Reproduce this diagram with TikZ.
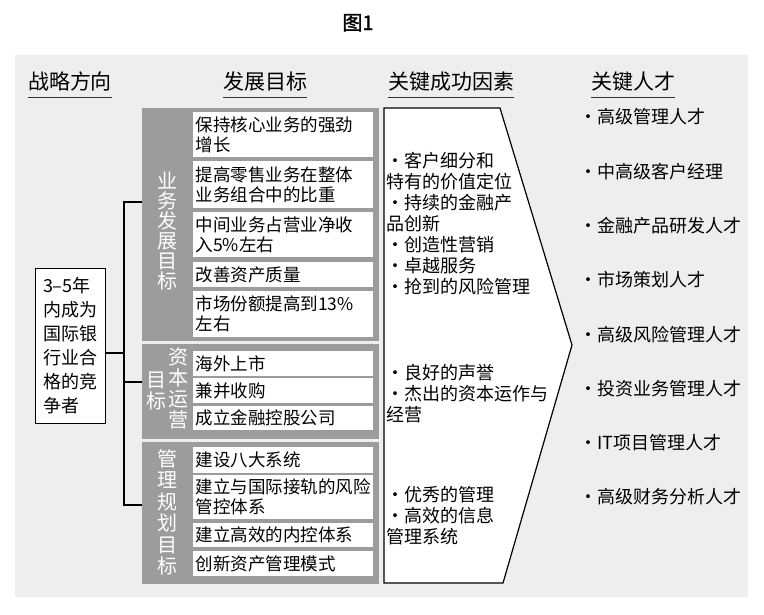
\documentclass[tikz,border=0pt]{standalone}
\usepackage{fontspec}
\setmainfont{Noto Sans CJK SC}
\newfontfamily\titlefont[FakeBold=1.5]{Noto Sans CJK SC}
\usetikzlibrary{positioning}
\definecolor{panelgray}{HTML}{EEEEEE}
\definecolor{boxgray}{HTML}{9C9C9C}
\newcommand{\dotmark}{\makebox[1em]{·}}
\begin{document}
\begin{tikzpicture}[x=1pt,y=-1pt,
  head/.style={font=\fontsize{21}{24}\selectfont, inner sep=0pt, anchor=base},
  uline/.style={draw=black!80, line width=1pt},
  group/.style={fill=boxgray, minimum width=237pt, anchor=north west, inner sep=0pt},
  item/.style={fill=white, anchor=west, text width=175pt, inner xsep=2.5pt, inner ysep=0pt, align=left, font=\fontsize{17.5}{20}\selectfont},
  vlabel/.style={text=white, align=center, inner sep=0pt},
  ksf/.style={anchor=west, align=left, inner sep=0pt, font=\fontsize{18}{21}\selectfont},
  talent/.style={anchor=west, inner sep=0pt, font=\fontsize{18}{21}\selectfont},
  link/.style={line width=1.2pt}]
\useasboundingbox (0,0) rectangle (764,614);
\fill[panelgray] (15,55) rectangle (748,597);
\node[anchor=base, font=\titlefont\fontsize{20}{24}\selectfont] (title) at (358,30) {图1};
% column heads
\node[head] (h1) at (70,89) {战略方向};
\node[head] (h2) at (265,89) {发展目标};
\node[head] (h3) at (451,89) {关键成功因素};
\node[head] (h4) at (633,89) {关键人才};
\foreach \h in {h1,h2,h3,h4}
  \draw[uline] ([yshift=-8pt]\h.base west) -- ([yshift=-8pt]\h.base east);
% goal groups
\node[group, minimum height=233pt] (grpA) at (142,108) {};
\node[group, minimum height=95pt] (grpB) at (142,344) {};
\node[group, minimum height=142pt] (grpC) at (142,442) {};
\node[vlabel, font=\fontsize{20}{20}\selectfont] (labA) at (167,231) {业\\务\\发\\展\\目\\标};
\node[vlabel, font=\fontsize{20}{21}\selectfont] (labB) at (178,388) {资\\本\\运\\营};
\node[vlabel, font=\fontsize{20}{21}\selectfont] (labB2) at (156,391) {目\\标};
\node[vlabel, font=\fontsize{20}{21.5}\selectfont] (labC) at (167,512.5) {管\\理\\规\\划\\目\\标};
\node[item, minimum height=45pt] (a1) at (193,134.5) {保持核心业务的强劲\\增长};
\node[item, minimum height=47pt] (a2) at (193,184.5) {提高零售业务在整体\\业务组合中的比重};
\node[item, minimum height=45pt] (a3) at (193,234.5) {中间业务占营业净收\\入5\%左右};
\node[item, minimum height=25pt] (a4) at (193,274.5) {改善资产质量};
\node[item, minimum height=46pt] (a5) at (193,314) {市场份额提高到13\%\\左右};
\node[item, minimum height=25pt] (b1) at (193,363.5) {海外上市};
\node[item, minimum height=25pt] (b2) at (193,390.5) {兼并收购};
\node[item, minimum height=24pt] (b3) at (193,418) {成立金融控股公司};
\node[item, minimum height=26pt] (c1) at (193,460) {建设八大系统};
\node[item, minimum height=44pt] (c2) at (193,497) {建立与国际接轨的风险\\管控体系};
\node[item, minimum height=24pt] (c3) at (193,535) {建立高效的内控体系};
\node[item, minimum height=25pt] (c4) at (193,563.5) {创新资产管理模式};
% strategy box and bracket
\node[draw, fill=white, line width=1pt, text width=54pt, inner xsep=8pt, minimum height=155pt, align=left, font=\fontsize{18}{24}\selectfont] (goal) at (70,345.5) {3–5年\\内成为\\国际银\\行业合\\格的竞\\争者};
\coordinate (busA) at (124,202);
\coordinate (busB) at (124,382);
\coordinate (busC) at (124,505);
\coordinate (busG) at (124,353);
\draw[link] (busA -| grpA.west) -- (busA) -- (busC) -- (busC -| grpC.west);
\draw[link] (busB) -- (busB -| grpB.west);
\draw[link] (busG -| goal.east) -- (busG);
% key success factors
\draw[link, fill=white] (384,108) -- (500,108) -- (572,345) -- (503,583) -- (384,583) -- cycle;
\node[ksf] (k1) at (386,223.5) {\dotmark 客户细分和\\特有的价值定位\\\dotmark 持续的金融产\\品创新\\\dotmark 创造性营销\\\dotmark 卓越服务\\\dotmark 抢到的风险管理};
\node[ksf] (k2) at (386,394) {\dotmark 良好的声誉\\\dotmark 杰出的资本运作与\\经营};
\node[ksf] (k3) at (386,516) {\dotmark 优秀的管理\\\dotmark 高效的信息\\管理系统};
% key talents
\foreach \t [count=\i] in {高级管理人才,中高级客户经理,金融产品研发人才,市场策划人才,高级风险管理人才,投资业务管理人才,IT项目管理人才,高级财务分析人才}
  \node[talent] (tal\i) at ({579},{117+54.3*(\i-1)}) {\dotmark\t};
\end{tikzpicture}
\end{document}
